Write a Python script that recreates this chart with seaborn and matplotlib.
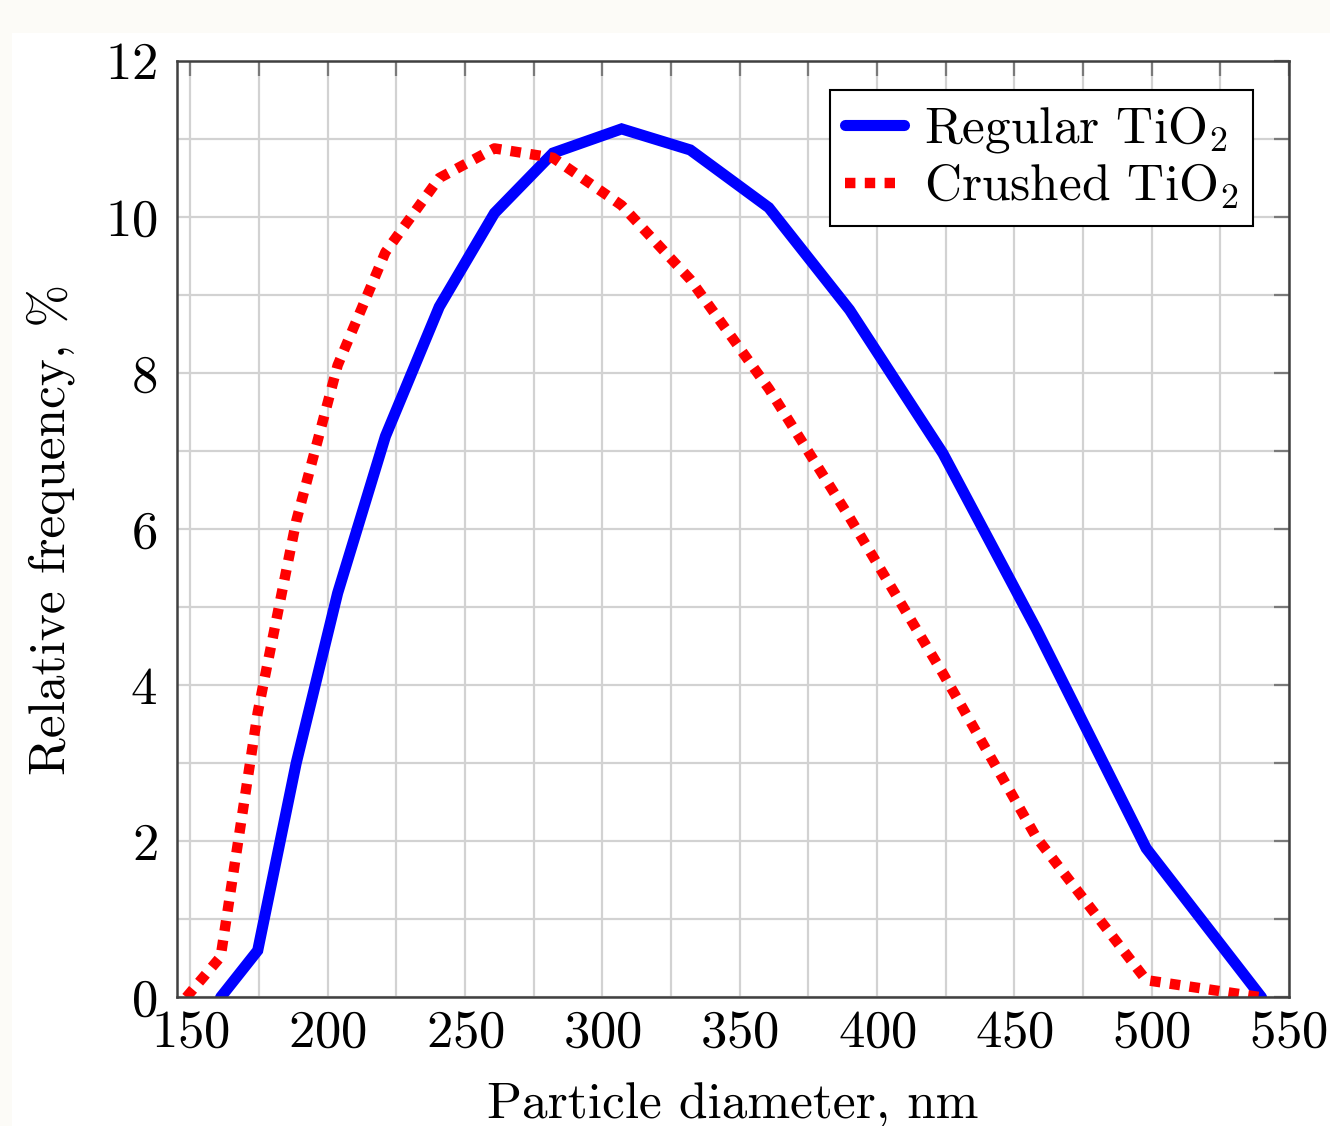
import matplotlib
matplotlib.use("Agg")
import matplotlib.pyplot as plt
import matplotlib.patches as mpatches
from matplotlib.ticker import MultipleLocator
import pandas as pd
import seaborn as sns

# particle size distributions
regular_d = [161, 174.5, 188.5, 203.6, 221, 240.6, 260.7, 282, 307, 332, 360.6, 390, 424, 458, 498, 540]
regular_f = [0, 0.6, 3.0, 5.18, 7.19, 8.85, 10.05, 10.82, 11.13, 10.86, 10.12, 8.81, 6.97, 4.72, 1.91, 0]

crushed_d = [148.5, 161, 174.5, 188.5, 203.6, 221, 240.6, 260.7, 282, 307, 332, 360.6, 390, 424, 458, 498, 540]
crushed_f = [0, 0.52, 3.65, 6.1, 8.1, 9.55, 10.5, 10.88, 10.76, 10.15, 9.2, 7.8, 6.15, 4.15, 2.05, 0.22, 0]

x_ticks = [150, 200, 250, 300, 350, 400, 450, 500, 550]
y_ticks = [0, 2, 4, 6, 8, 10, 12]

sns.set_style("white")
plt.rcParams['font.family'] = ['cmr10', 'DejaVu Serif']
plt.rcParams['mathtext.fontset'] = 'cm'
plt.rcParams['axes.formatter.use_mathtext'] = True
plt.rcParams['axes.unicode_minus'] = False
plt.rcParams['text.color'] = 'black'
plt.rcParams['axes.labelcolor'] = 'black'

fig = plt.figure(figsize=(13.3, 11.26), dpi=100)
fig.patch.set_facecolor('#fcfbf7')
fig.patches.append(mpatches.Rectangle((12 / 1330, 0), 1, 1 - 33 / 1126, transform=fig.transFigure,
                                      facecolor='white', edgecolor='none', zorder=-10))
ax = fig.add_axes([176.7 / 1330, 1 - 997.3 / 1126, (1289 - 176.7) / 1330, (997.3 - 61) / 1126])
ax.set_zorder(5)

df_reg = pd.DataFrame({'d': regular_d, 'f': regular_f})
df_cru = pd.DataFrame({'d': crushed_d, 'f': crushed_f})

sns.lineplot(data=df_reg, x='d', y='f', ax=ax, color='#0000ff', lw=8, sort=False,
             label=r'Regular TiO$_2$', solid_joinstyle='miter')
sns.lineplot(data=df_cru, x='d', y='f', ax=ax, color='#ff0000', lw=7.5, sort=False,
             label=r'Crushed TiO$_2$', linestyle=(0, (1, 0.9)))

ax.set_xlim(145, 550)
ax.set_ylim(0, 12)
ax.set_xticks(x_ticks)
ax.set_yticks(y_ticks)
ax.xaxis.set_minor_locator(MultipleLocator(25))
ax.yaxis.set_minor_locator(MultipleLocator(1))
ax.grid(which='both', color='#d2d2d2', lw=1.6)
ax.set_axisbelow(True)
ax.tick_params(which='both', direction='in', top=True, right=True, length=11,
               width=1.6, color='#7a7a7a', labelsize=38, labelcolor='black')
ax.tick_params(axis='x', pad=9)
ax.tick_params(axis='y', pad=14)
for s in ax.spines.values():
    s.set_color('#404040')
    s.set_linewidth(1.8)

ax.set_xlabel('Particle diameter, nm', fontsize=37, labelpad=18)
ax.set_ylabel('Relative frequency, %', fontsize=37, labelpad=21)

leg = ax.legend(loc='upper right', bbox_to_anchor=(0.968, 0.969), borderaxespad=0,
                fontsize=37, fancybox=False, framealpha=1, edgecolor='black',
                handlelength=1.15, handletextpad=0.4, borderpad=0.28, labelspacing=0.12)
leg.get_frame().set_linewidth(1.5)

fig.savefig('out.png', dpi=100, facecolor=fig.get_facecolor())
